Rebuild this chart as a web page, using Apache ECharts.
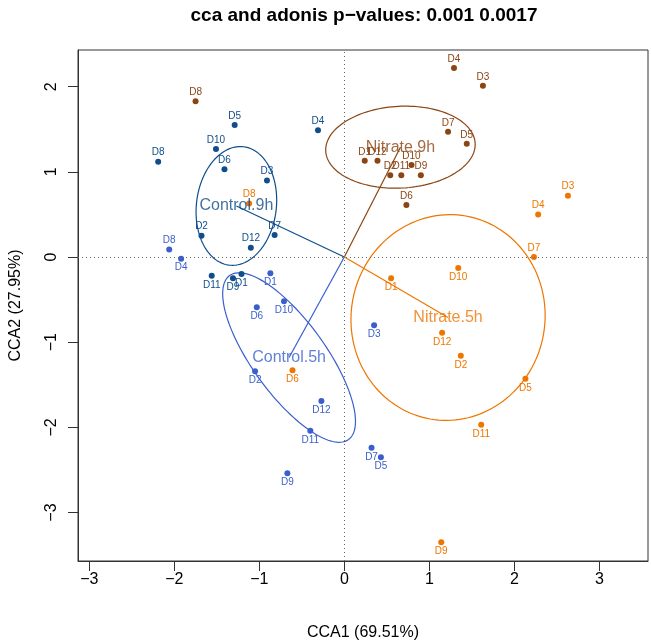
<!DOCTYPE html>
<html>
<head>
<meta charset="utf-8">
<script src="https://cdn.jsdelivr.net/npm/echarts@6/dist/echarts.min.js"></script>
<style>
html,body{margin:0;padding:0;background:#fff}
#chart{width:651px;height:643px}
</style>
</head>
<body>
<div id="chart"></div>
<script>
// groups and colours
var groups = ['Control.9h', 'Control.5h', 'Nitrate.9h', 'Nitrate.5h'];
var colors = ['#104E8B', '#3A5FCD', '#8B4513', '#EE7600'];
var sampleNames = ['D1','D2','D3','D4','D5','D6','D7','D8','D9','D10','D11','D12'];

// site scores (CCA1, CCA2), D1..D12
var ctrl9X = [-1.21, -1.68, -0.91, -0.31, -1.29, -1.41, -0.82, -2.19, -1.31, -1.51, -1.56, -1.10];
var ctrl9Y = [-0.20,  0.25,  0.90,  1.49,  1.55,  1.03,  0.26,  1.12, -0.25,  1.27, -0.22,  0.11];
var ctrl5X = [-0.87, -1.05,  0.35, -1.92,  0.43, -1.03,  0.32, -2.06, -0.67, -0.71, -0.40, -0.27];
var ctrl5Y = [-0.19, -1.34, -0.80, -0.02, -2.35, -0.59, -2.24,  0.09, -2.54, -0.52, -2.04, -1.69];
var nit9X  = [ 0.24,  0.54,  1.63,  1.29,  1.44,  0.73,  1.22, -1.75,  0.90,  0.79,  0.67,  0.39];
var nit9Y  = [ 1.13,  0.96,  2.01,  2.22,  1.33,  0.61,  1.47,  1.83,  0.96,  1.08,  0.96,  1.13];
var nit5X  = [ 0.55,  1.37,  2.63,  2.28,  2.13, -0.61,  2.23, -1.12,  1.14,  1.34,  1.61,  1.15];
var nit5Y  = [-0.25, -1.16,  0.72,  0.50, -1.43, -1.33,  0.00,  0.63, -3.35, -0.13, -1.97, -0.89];

// group centroids
var centroidX = [-1.27, -0.65, 0.66, 1.22];
var centroidY = [ 0.60, -1.18, 1.29, -0.71];

// ellipses: semi axes and rotation (degrees)
var ellA = [0.70, 1.19, 0.88, 1.21];
var ellB = [0.47, 0.43, 0.48, 1.14];
var ellAngle = [83, -54, 3, 80];

var xTicks = [-3, -2, -1, 0, 1, 2, 3];
var yTicks = [-3, -2, -1, 0, 1, 2];

var groupX = [ctrl9X, ctrl5X, nit9X, nit5X];
var groupY = [ctrl9Y, ctrl5Y, nit9Y, nit5Y];

var font = "'Liberation Sans', Arial, Helvetica, sans-serif";

function minus(v){
    return String(v).replace('-', '\u2212');
}

function pointData(g){
    var out = [];
    for (var i = 0; i < sampleNames.length; i++) {
        var y = groupY[g][i];
        out.push({
            value: [groupX[g][i], y],
            name: sampleNames[i],
            label: {offset: [0, y >= 0 ? -9 : 9]}
        });
    }
    return out;
}

function renderEllipse(params, api){
    var cx = api.value(0), cy = api.value(1),
        a = api.value(2), b = api.value(3),
        t = api.value(4) * Math.PI / 180;
    var pts = [];
    for (var i = 0; i <= 144; i++) {
        var u = i / 144 * 2 * Math.PI;
        var ex = a * Math.cos(u), ey = b * Math.sin(u);
        pts.push(api.coord([cx + ex * Math.cos(t) - ey * Math.sin(t),
                            cy + ex * Math.sin(t) + ey * Math.cos(t)]));
    }
    return {
        type: 'polyline',
        shape: {points: pts},
        style: {stroke: colors[params.seriesIndex % 4], fill: null, lineWidth: 1.2}
    };
}

var series = [];

// ellipses
for (var g = 0; g < 4; g++) {
    series.push({
        type: 'custom',
        silent: true,
        renderItem: renderEllipse,
        encode: {x: 0, y: 1},
        data: [[centroidX[g], centroidY[g], ellA[g], ellB[g], ellAngle[g]]],
        z: 2
    });
}

// spokes from origin to centroids
for (var g = 0; g < 4; g++) {
    series.push({
        type: 'line',
        silent: true,
        symbol: 'none',
        lineStyle: {color: colors[g], width: 1.2},
        data: [[0, 0], [centroidX[g], centroidY[g]]],
        z: 3
    });
}

// samples
for (var g = 0; g < 4; g++) {
    series.push({
        type: 'scatter',
        name: groups[g],
        symbolSize: 6,
        itemStyle: {color: colors[g], opacity: 1},
        label: {
            show: true,
            position: 'inside',
            formatter: '{b}',
            color: colors[g],
            fontSize: 10,
            fontFamily: font
        },
        data: pointData(g),
        z: 4
    });
}

// centroid labels
series.push({
    type: 'scatter',
    silent: true,
    symbolSize: 0,
    label: {
        show: true,
        position: 'inside',
        formatter: '{b}',
        fontSize: 16,
        fontFamily: font
    },
    data: groups.map(function(n, i){
        return {name: n, value: [centroidX[i], centroidY[i]], label: {color: colors[i]}};
    }),
    z: 5
});

// dotted zero lines
series.push({
    type: 'line',
    silent: true,
    data: [],
    markLine: {
        silent: true,
        symbol: 'none',
        label: {show: false},
        lineStyle: {color: '#666', type: [1, 3], width: 1},
        data: [{xAxis: 0}, {yAxis: 0}]
    },
    z: 1
});

var option = {
    animation: false,
    backgroundColor: '#fff',
    title: {
        text: 'cca and adonis p\u2212values: 0.001 0.0017',
        left: 359,
        top: 1,
        textAlign: 'center',
        textStyle: {fontSize: 19, fontWeight: 'bold', fontFamily: font, color: '#000'}
    },
    grid: {
        left: 78, right: 3, top: 50, bottom: 82,
        show: true, borderColor: '#333', borderWidth: 1,
        outerBoundsMode: 'none'
    },
    xAxis: {
        type: 'value',
        min: -3.133, max: 3.572,
        name: 'CCA1 (69.51%)',
        nameLocation: 'middle',
        nameGap: 64,
        nameTextStyle: {fontSize: 16, fontFamily: font, color: '#000'},
        axisLine: {show: true, onZero: false, lineStyle: {color: '#333'}},
        axisTick: {show: true, length: 10, customValues: xTicks, lineStyle: {color: '#333'}},
        axisLabel: {customValues: xTicks, fontSize: 16, fontFamily: font, color: '#000', margin: 11, formatter: minus},
        splitLine: {show: false}
    },
    yAxis: {
        type: 'value',
        min: -3.569, max: 2.431,
        name: 'CCA2 (27.95%)',
        nameLocation: 'middle',
        nameRotate: 90,
        nameGap: 54,
        nameTextStyle: {fontSize: 16, fontFamily: font, color: '#000'},
        axisLine: {show: true, onZero: false, lineStyle: {color: '#333'}},
        axisTick: {show: true, length: 10, customValues: yTicks, lineStyle: {color: '#333'}},
        axisLabel: {customValues: yTicks, fontSize: 16, fontFamily: font, color: '#000', margin: 18, rotate: 90, formatter: minus},
        splitLine: {show: false}
    },
    series: series
};

var chart = echarts.init(document.getElementById('chart'));
chart.setOption(option);
</script>
</body>
</html>
